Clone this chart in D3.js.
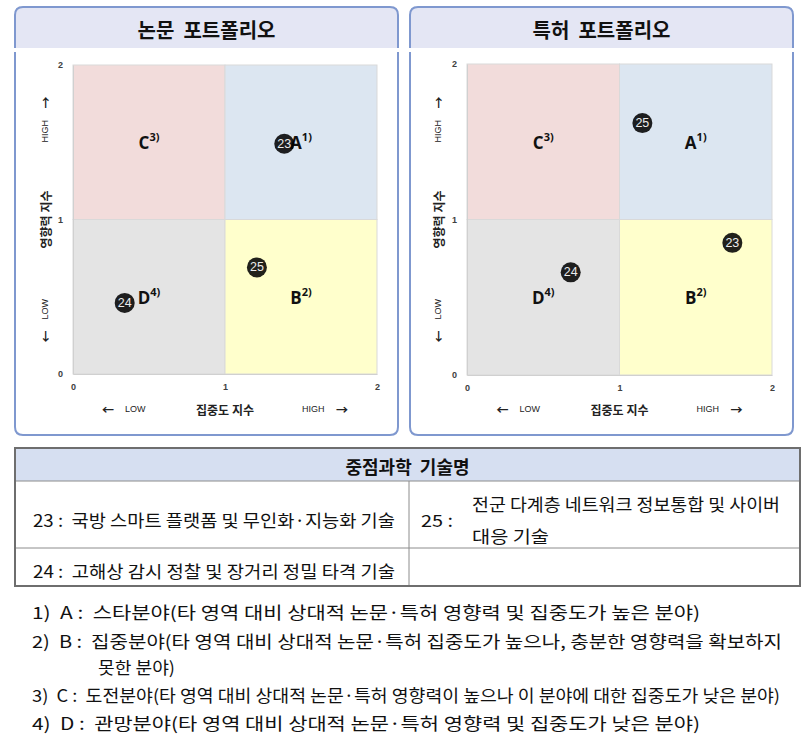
<!DOCTYPE html>
<html>
<head>
<meta charset="utf-8">
<script src="https://cdn.jsdelivr.net/npm/d3@7"></script>
<style>
  body { margin: 0; background: #fff; }
  svg { display: block; font-family: "Noto Sans CJK KR", "Noto Sans", sans-serif; }
  svg text { white-space: pre; }
</style>
</head>
<body>
<div id="chart"></div>
<script>
// Paramètres généraux
const width = 806;
const height = 746;

// Quadrants (domaine 0..2 sur les deux axes)
const quadrants = [
  { key: 'C', note: '3)', x0: 0, x1: 1, y0: 1, y1: 2 },
  { key: 'A', note: '1)', x0: 1, x1: 2, y0: 1, y1: 2 },
  { key: 'D', note: '4)', x0: 0, x1: 1, y0: 0, y1: 1 },
  { key: 'B', note: '2)', x0: 1, x1: 2, y0: 0, y1: 1 }
];
const quadColors = { A: '#dce6f1', B: '#ffffcc', C: '#f2dcdb', D: '#e4e4e4' };

// Points (집중도 지수, 영향력 지수)
const paperPoints = [
  { id: '23', x: 1.39, y: 1.49 },
  { id: '25', x: 1.21, y: 0.69 },
  { id: '24', x: 0.34, y: 0.46 }
];
const patentPoints = [
  { id: '25', x: 1.15, y: 1.62 },
  { id: '23', x: 1.74, y: 0.85 },
  { id: '24', x: 0.68, y: 0.66 }
];

const axisTicks = [0, 1, 2];
const panelTitles = ['논문  포트폴리오', '특허  포트폴리오'];
const xTitle = '집중도 지수';
const yTitle = '영향력 지수';

// Tableau des technologies
const tableTitle = '중점과학  기술명';
const techRows = [
  '23 :  국방 스마트 플랫폼 및 무인화·지능화 기술',
  '24 :  고해상 감시 정찰 및 장거리 정밀 타격 기술'
];
const tech25 = ['전군 다계층 네트워크 정보통합 및 사이버', '대응 기술'];

// Notes
const notes = [
  { text: '1)  A :  스타분야(타 영역 대비 상대적 논문·특허 영향력 및 집중도가 높은 분야)', len: 668 },
  { text: '2)  B :  집중분야(타 영역 대비 상대적 논문·특허 집중도가 높으나, 충분한 영향력을 확보하지', len: 750 },
  { text: '못한 분야)', len: 77, indent: true },
  { text: '3)  C :  도전분야(타 영역 대비 상대적 논문·특허 영향력이 높으나 이 분야에 대한 집중도가 낮은 분야)', len: 748 },
  { text: '4)  D :  관망분야(타 영역 대비 상대적 논문·특허 영향력 및 집중도가 낮은 분야)', len: 668 }
];

const svg = d3.select('#chart').append('svg')
  .attr('width', width)
  .attr('height', height);

// Panneaux
const panels = [
  { left: 15, right: 398, plot: [73, 377, 65, 374], yLabelX: 45, points: paperPoints, title: panelTitles[0] },
  { left: 410, right: 793, plot: [467, 772, 64, 375], yLabelX: 438, points: patentPoints, title: panelTitles[1] }
];

panels.forEach(p => drawPanel(p));

function drawPanel(p) {
  const top = 7, headBottom = 48, bodyTop = 52, bottom = 435, r = 8;
  const g = svg.append('g');

  // En-tête
  const headPath = `M${p.left},${headBottom} V${top + r} Q${p.left},${top} ${p.left + r},${top} H${p.right - r} Q${p.right},${top} ${p.right},${top + r} V${headBottom}`;
  g.append('path').attr('d', headPath + ' Z').attr('fill', '#e4e6f4');
  g.append('path').attr('d', headPath)
    .attr('fill', 'none').attr('stroke', '#7f98cf').attr('stroke-width', 2);
  g.append('text')
    .attr('x', (p.left + p.right) / 2).attr('y', 29)
    .attr('text-anchor', 'middle').attr('dominant-baseline', 'central')
    .attr('font-size', 20).attr('font-weight', 'bold').attr('fill', '#111')
    .text(p.title);

  // Corps
  g.append('path')
    .attr('d', `M${p.left},${bodyTop} V${bottom - r} Q${p.left},${bottom} ${p.left + r},${bottom} H${p.right - r} Q${p.right},${bottom} ${p.right},${bottom - r} V${bodyTop}`)
    .attr('fill', '#fff').attr('stroke', '#7f98cf').attr('stroke-width', 2);

  const [px0, px1, py0, py1] = p.plot;
  const x = d3.scaleLinear().domain([0, 2]).range([px0, px1]);
  const y = d3.scaleLinear().domain([0, 2]).range([py1, py0]);

  // Quadrants
  g.append('g').selectAll('rect')
    .data(quadrants)
    .join('rect')
      .attr('x', d => x(d.x0))
      .attr('y', d => y(d.y1))
      .attr('width', d => x(d.x1) - x(d.x0))
      .attr('height', d => y(d.y0) - y(d.y1))
      .attr('fill', d => quadColors[d.key])
      .attr('stroke', '#d9d9d9').attr('stroke-width', 1);

  // Axes
  const styleTicks = a => a.selectAll('text')
    .attr('font-size', 9).attr('font-weight', 'bold').attr('fill', '#404040')
    .attr('font-family', 'Liberation Sans, sans-serif');
  g.append('g')
    .attr('transform', `translate(0, ${py1})`)
    .call(d3.axisBottom(x).tickValues(axisTicks).tickSize(0).tickPadding(10).tickFormat(d3.format('d')))
    .call(a => a.select('.domain').attr('stroke', '#d0d0d0'))
    .call(styleTicks);
  g.append('g')
    .attr('transform', `translate(${px0}, 0)`)
    .call(d3.axisLeft(y).tickValues(axisTicks).tickSize(0).tickPadding(10).tickFormat(d3.format('d')))
    .call(a => a.select('.domain').attr('stroke', '#d0d0d0'))
    .call(styleTicks);

  // Etiquettes de quadrant
  const labels = g.append('g').selectAll('text')
    .data(quadrants)
    .join('text')
      .attr('x', d => x((d.x0 + d.x1) / 2))
      .attr('y', d => y((d.y0 + d.y1) / 2))
      .attr('text-anchor', 'middle').attr('dominant-baseline', 'central')
      .attr('font-family', 'Open Sans, sans-serif')
      .attr('font-weight', 'bold').attr('fill', '#111');
  labels.append('tspan').attr('font-size', 17).text(d => d.key);
  labels.append('tspan').attr('font-size', 11).attr('dy', -6).text(d => d.note);

  // Points
  const dots = g.append('g').selectAll('g')
    .data(p.points)
    .join('g')
      .attr('transform', d => `translate(${x(d.x)}, ${y(d.y)})`);
  dots.append('circle').attr('r', 10).attr('fill', '#000').attr('fill-opacity', 0.87);
  dots.append('text')
    .attr('text-anchor', 'middle').attr('dominant-baseline', 'central')
    .attr('font-size', 12.5).attr('fill', '#ececec')
    .attr('font-family', 'Liberation Sans Narrow, Liberation Sans, sans-serif')
    .text(d => d.id);

  // Titres d'axes
  const cx = (px0 + px1) / 2;
  axisTitle(g.append('g').attr('transform', `translate(${cx}, 409)`), xTitle);
  axisTitle(g.append('g').attr('transform', `translate(${p.yLabelX}, ${(py0 + py1) / 2}) rotate(-90)`), yTitle);
}

function axisTitle(sel, title) {
  const base = () => sel.append('text').attr('dominant-baseline', 'central').attr('fill', '#222');
  base().attr('x', -117).attr('text-anchor', 'middle').attr('font-size', 12).attr('font-weight', 'bold').text('←');
  base().attr('x', -100).attr('font-size', 9).attr('font-family', 'Liberation Sans, sans-serif').text('LOW');
  base().attr('x', 0).attr('text-anchor', 'middle').attr('font-size', 12).attr('font-weight', 'bold').text(title);
  base().attr('x', 77).attr('font-size', 9).attr('font-family', 'Liberation Sans, sans-serif').text('HIGH');
  base().attr('x', 117).attr('text-anchor', 'middle').attr('font-size', 12).attr('font-weight', 'bold').text('→');
}

// Tableau
const tbl = { left: 15, right: 800, top: 448, head: 481, mid: 548, bottom: 586, split: 409 };
const tg = svg.append('g');
tg.append('rect')
  .attr('x', tbl.left).attr('y', tbl.top)
  .attr('width', tbl.right - tbl.left).attr('height', tbl.head - tbl.top)
  .attr('fill', '#d6dff1');
[tbl.head, tbl.mid].forEach(yy => tg.append('line')
  .attr('x1', tbl.left).attr('x2', tbl.right).attr('y1', yy).attr('y2', yy)
  .attr('stroke', '#8c8c8c').attr('stroke-width', 1));
tg.append('line').attr('x1', tbl.split).attr('x2', tbl.split).attr('y1', tbl.head).attr('y2', tbl.bottom)
  .attr('stroke', '#8c8c8c').attr('stroke-width', 1);
tg.append('rect')
  .attr('x', tbl.left).attr('y', tbl.top)
  .attr('width', tbl.right - tbl.left).attr('height', tbl.bottom - tbl.top)
  .attr('fill', 'none').attr('stroke', '#6e6e6e').attr('stroke-width', 2);

tg.append('text')
  .attr('x', (tbl.left + tbl.right) / 2).attr('y', 466)
  .attr('text-anchor', 'middle').attr('dominant-baseline', 'central')
  .attr('font-size', 18).attr('font-weight', 'bold').attr('fill', '#111')
  .text(tableTitle);

const cellText = (x, y, t, len) => tg.append('text')
  .attr('x', x).attr('y', y).attr('dominant-baseline', 'central')
  .attr('font-size', 17).attr('fill', '#111')
  .attr('textLength', len).attr('lengthAdjust', 'spacingAndGlyphs')
  .text(t);

cellText(33, 519, techRows[0], 362);
cellText(33, 570, techRows[1], 362);
cellText(421, 519, '25 :', 32);
cellText(472, 503, tech25[0], 308);
cellText(472, 535, tech25[1], 77);

// Notes
const noteY = [611, 640, 666, 694, 722];
svg.append('g').selectAll('text')
  .data(notes)
  .join('text')
    .attr('x', d => d.indent ? 98 : 32)
    .attr('y', (d, i) => noteY[i])
    .attr('dominant-baseline', 'central')
    .attr('font-size', 17).attr('fill', '#111')
    .attr('textLength', d => d.len).attr('lengthAdjust', 'spacingAndGlyphs')
    .text(d => d.text);
</script>
</body>
</html>
